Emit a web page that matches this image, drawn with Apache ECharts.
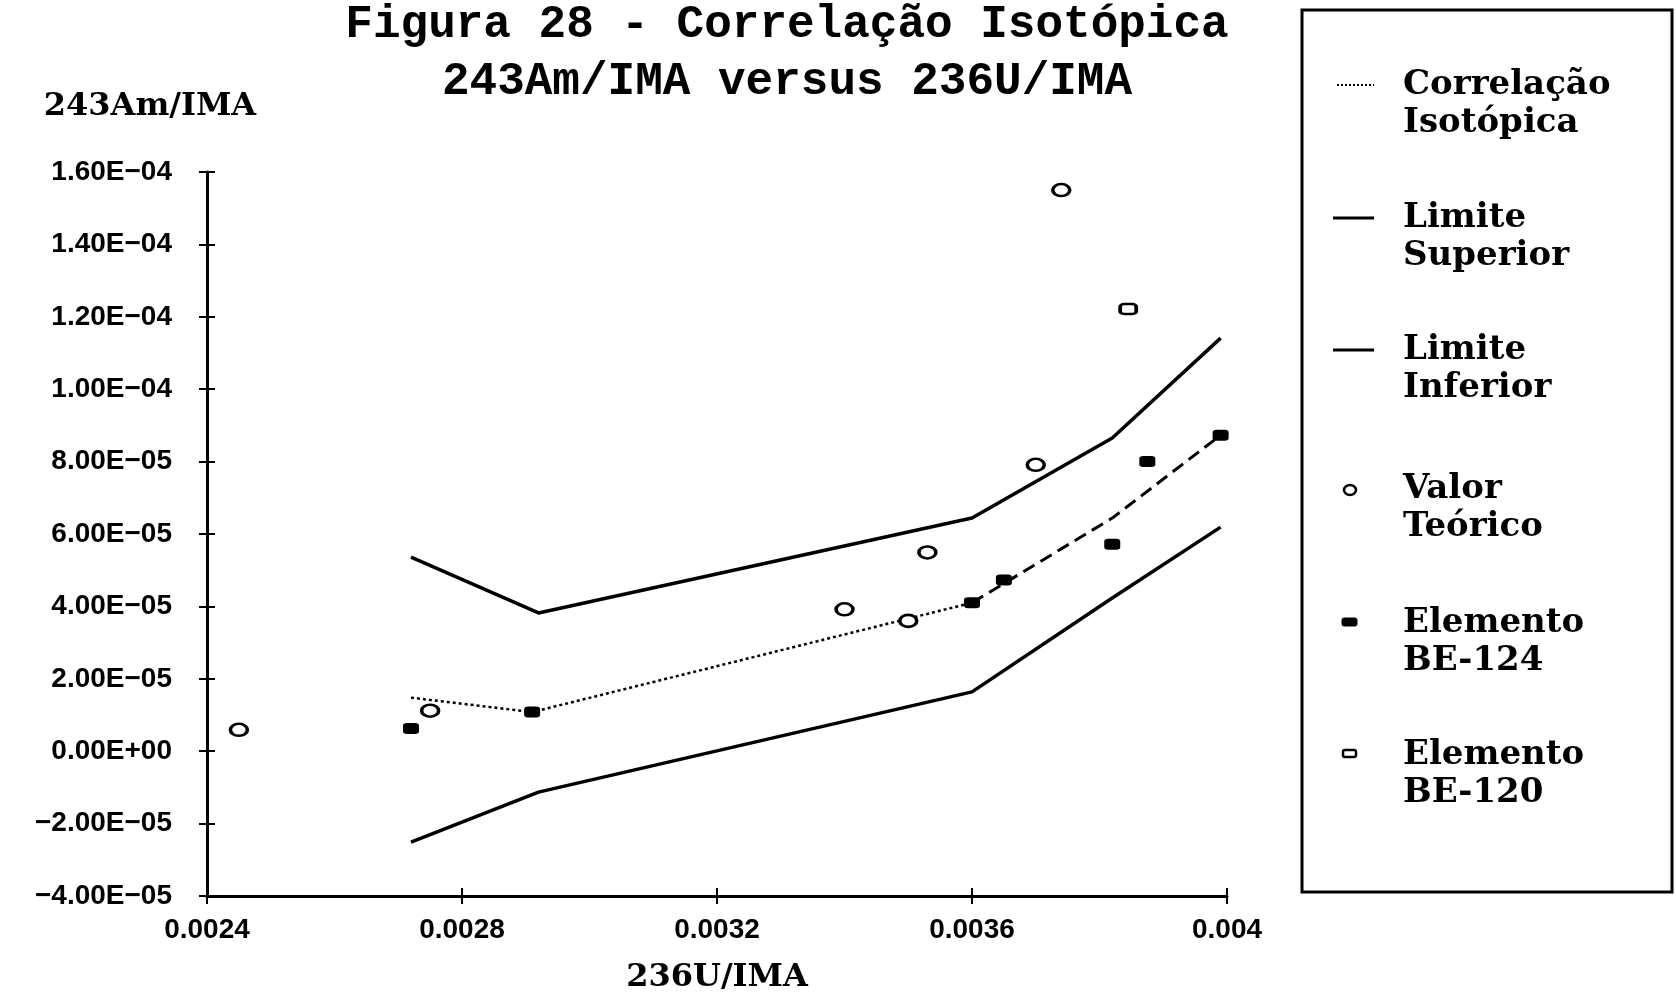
<!DOCTYPE html>
<html>
<head>
<meta charset="utf-8">
<script src="https://cdn.jsdelivr.net/npm/echarts@6/dist/echarts.min.js"></script>
<style>
html,body{margin:0;padding:0;background:#fff;}
#chart{width:1676px;height:1000px;}
</style>
</head>
<body>
<div id="chart"></div>
<script>
// ---- data ----
const xTicks = [0.0024, 0.0028, 0.0032, 0.0036, 0.004];
const xTickLabels = ['0.0024', '0.0028', '0.0032', '0.0036', '0.004'];
const yTicks = [-4e-5, -2e-5, 0, 2e-5, 4e-5, 6e-5, 8e-5, 1e-4, 1.2e-4, 1.4e-4, 1.6e-4];
const yTickLabels = ['\u22124.00E\u221205', '\u22122.00E\u221205', '0.00E+00', '2.00E\u221205', '4.00E\u221205',
  '6.00E\u221205', '8.00E\u221205', '1.00E\u221204', '1.20E\u221204', '1.40E\u221204', '1.60E\u221204'];

// Correlação Isotópica (dotted part, then dashed continuation)
const corrDotX = [0.00272, 0.00291, 0.0036];
const corrDotY = [1.48e-5, 1.08e-5, 4.1e-5];
const corrDashX = [0.0036, 0.00382, 0.00399];
const corrDashY = [4.1e-5, 6.44e-5, 8.73e-5];

// Limits
const limX = [0.00272, 0.00292, 0.0036, 0.00382, 0.00399];
const limSupY = [5.36e-5, 3.82e-5, 6.44e-5, 8.65e-5, 1.141e-4];
const limInfY = [-2.51e-5, -1.13e-5, 1.64e-5, 4.23e-5, 6.19e-5];

// Valor Teórico
const teoX = [0.00245, 0.00275, 0.0034, 0.0035, 0.00353, 0.0037, 0.00374];
const teoY = [5.9e-6, 1.12e-5, 3.92e-5, 3.6e-5, 5.49e-5, 7.91e-5, 1.55e-4];

// Elemento BE-124
const be124X = [0.00272, 0.00291, 0.0036, 0.00365, 0.00382, 0.003875, 0.00399];
const be124Y = [6.3e-6, 1.08e-5, 4.1e-5, 4.73e-5, 5.72e-5, 8.0e-5, 8.73e-5];

// Elemento BE-120
const be120X = [0.003845];
const be120Y = [1.2215e-4];

const titleLines = ['Figura 28 - Correlação Isotópica', '243Am/IMA versus 236U/IMA'];
const legendLabels = [
  'Correlação\nIsotópica',
  'Limite\nSuperior',
  'Limite\nInferior',
  'Valor\nTeórico',
  'Elemento\nBE-124',
  'Elemento\nBE-120'
];

// ---- helpers ----
function zip(xs, ys) { return xs.map((x, i) => [x, ys[i]]); }
function nearestLabel(v, ticks, labels) {
  let best = 0, bd = Infinity;
  ticks.forEach((t, i) => { const d = Math.abs(t - v); if (d < bd) { bd = d; best = i; } });
  return labels[best];
}

const serifFont = 'DejaVu Serif';
const labelFont = 'Liberation Sans';

const chart = echarts.init(document.getElementById('chart'), null, { renderer: 'canvas' });

const commonX = { type: 'value', min: 0.0024, max: 0.004, interval: 0.0004, splitLine: { show: false } };
const commonY = { type: 'value', min: -4e-5, max: 1.6e-4, interval: 2e-5, splitLine: { show: false } };

// legend graphics (boxed legend at right)
const lgX = 1403, lgLH = 38;
const legendTops = [85, 218, 350, 489, 623, 755];
const legendGraphics = [
  { type: 'rect', shape: { x: 1302, y: 10, width: 370, height: 882 },
    style: { fill: 'none', stroke: '#000', lineWidth: 3 }, silent: true },
  { type: 'line', shape: { x1: 1337, y1: 85, x2: 1374, y2: 85 },
    style: { stroke: '#000', lineWidth: 2, lineDash: [2, 2] } },
  { type: 'line', shape: { x1: 1333, y1: 218, x2: 1374, y2: 218 },
    style: { stroke: '#000', lineWidth: 3 } },
  { type: 'line', shape: { x1: 1333, y1: 350, x2: 1374, y2: 350 },
    style: { stroke: '#000', lineWidth: 3 } },
  { type: 'ellipse', shape: { cx: 1350, cy: 490, rx: 6, ry: 5 },
    style: { fill: '#fff', stroke: '#000', lineWidth: 2.5 } },
  { type: 'rect', shape: { x: 1342, y: 618, width: 15, height: 8, r: 2 },
    style: { fill: '#000', stroke: '#000', lineWidth: 1 } },
  { type: 'rect', shape: { x: 1343, y: 750, width: 13, height: 7, r: 2 },
    style: { fill: '#fff', stroke: '#000', lineWidth: 2.5 } }
];
legendLabels.forEach((t, i) => {
  legendGraphics.push({
    type: 'text', x: lgX, y: legendTops[i] - lgLH / 2,
    style: { text: t, fill: '#000', fontFamily: serifFont, fontWeight: 'bold', fontSize: 34,
      lineHeight: lgLH, align: 'left', verticalAlign: 'top' }
  });
});

const option = {
  animation: false,
  backgroundColor: '#fff',
  title: {
    text: titleLines.join('\n'),
    left: 787, top: -3, padding: 0,
    textAlign: 'center',
    textStyle: { fontFamily: 'Liberation Mono', fontWeight: 'bold', fontSize: 46, lineHeight: 57, color: '#000' }
  },
  legend: { show: false },
  grid: { left: 207, right: 449, top: 172, bottom: 104, containLabel: false },
  xAxis: [
    Object.assign({}, commonX, {
      name: '236U/IMA', nameLocation: 'middle', nameGap: 82,
      nameTextStyle: { fontFamily: serifFont, fontWeight: 'bold', fontSize: 32, color: '#000', verticalAlign: 'middle' },
      axisLine: { show: true, onZero: false, lineStyle: { color: '#000', width: 3 } },
      axisTick: { show: true, inside: false, length: 8, lineStyle: { color: '#000', width: 2 } },
      axisLabel: { margin: 20, color: '#000', fontFamily: labelFont, fontWeight: 'bold', fontSize: 28,
        formatter: v => nearestLabel(v, xTicks, xTickLabels) }
    }),
    Object.assign({}, commonX, {
      position: 'bottom',
      axisLine: { show: false, onZero: false },
      axisTick: { show: true, inside: true, length: 8, lineStyle: { color: '#000', width: 2 } },
      axisLabel: { show: false }
    })
  ],
  yAxis: [
    Object.assign({}, commonY, {
      name: '243Am/IMA', nameLocation: 'end', nameGap: 65,
      nameTextStyle: { fontFamily: serifFont, fontWeight: 'bold', fontSize: 32, color: '#000',
        align: 'center', verticalAlign: 'middle', padding: [0, 114, 0, 0] },
      axisLine: { show: true, onZero: false, lineStyle: { color: '#000', width: 3 } },
      axisTick: { show: true, inside: false, length: 8, lineStyle: { color: '#000', width: 2 } },
      axisLabel: { margin: 35, color: '#000', fontFamily: labelFont, fontWeight: 'bold', fontSize: 28,
        formatter: v => nearestLabel(v, yTicks, yTickLabels) }
    }),
    Object.assign({}, commonY, {
      position: 'left',
      axisLine: { show: false, onZero: false },
      axisTick: { show: true, inside: true, length: 8, lineStyle: { color: '#000', width: 2 } },
      axisLabel: { show: false }
    })
  ],
  series: [
    { name: 'Limite Superior', type: 'line', data: zip(limX, limSupY), symbol: 'none',
      lineStyle: { color: '#000', width: 3.5, opacity: 1 }, z: 2 },
    { name: 'Limite Inferior', type: 'line', data: zip(limX, limInfY), symbol: 'none',
      lineStyle: { color: '#000', width: 3.5, opacity: 1 }, z: 2 },
    { name: 'Correlação Isotópica', type: 'line', data: zip(corrDotX, corrDotY), symbol: 'none',
      lineStyle: { color: '#000', width: 2.5, type: [3, 3], opacity: 1 }, z: 2 },
    { name: 'Correlação Isotópica (continuação)', type: 'line', data: zip(corrDashX, corrDashY), symbol: 'none',
      lineStyle: { color: '#000', width: 3, type: [13, 7], opacity: 1 }, z: 2 },
    { name: 'Valor Teórico', type: 'scatter', data: zip(teoX, teoY), symbol: 'circle', symbolSize: [17, 12],
      itemStyle: { color: '#fff', borderColor: '#000', borderWidth: 3, opacity: 1 }, z: 5 },
    { name: 'Elemento BE-124', type: 'scatter', data: zip(be124X, be124Y), symbol: 'roundRect', symbolSize: [16, 11],
      itemStyle: { color: '#000', borderColor: '#000', borderWidth: 0, opacity: 1 }, z: 5 },
    { name: 'Elemento BE-120', type: 'scatter', data: zip(be120X, be120Y), symbol: 'roundRect', symbolSize: [16, 10],
      itemStyle: { color: '#fff', borderColor: '#000', borderWidth: 3, opacity: 1 }, z: 5 }
  ],
  graphic: legendGraphics
};

chart.setOption(option);
</script>
</body>
</html>
